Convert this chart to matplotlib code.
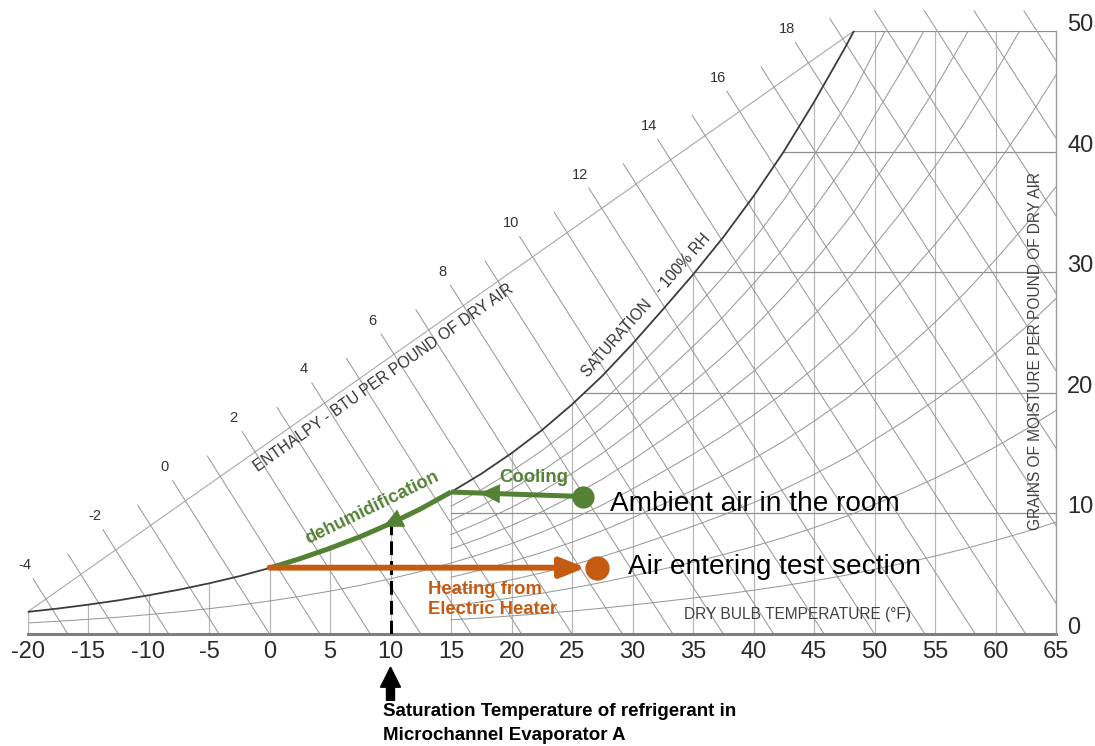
import numpy as np
import matplotlib
matplotlib.use("Agg")
import matplotlib.pyplot as plt

plt.rcParams['font.family'] = ['Liberation Sans', 'DejaVu Sans']

# ---------------- data ----------------
# saturation curve (dry bulb degF -> grains of moisture per lb dry air)
sat_temp = [-20, -17.5, -15, -12.5, -10, -7.5, -5, -2.5, 0, 2.5, 5, 7.5, 10, 12.5,
            15, 17.5, 20, 22.5, 25, 27.5, 30, 32.5, 35, 37.5, 40, 42.5, 45, 47.5,
            48.3, 50, 52.5, 55, 57.5, 60, 62.5, 65]
sat_grains = [1.83, 2.11, 2.43, 2.79, 3.21, 3.67, 4.20, 4.79, 5.47, 6.24, 7.11, 8.07,
              9.16, 10.38, 11.77, 13.28, 14.99, 16.89, 19.03, 21.40, 24.06, 26.9,
              29.8, 32.9, 36.3, 40.0, 44.1, 48.5, 50.0, 53.7, 58.9, 64.6, 70.8,
              77.6, 84.8, 92.7]

db_ticks = [-20, -15, -10, -5, 0, 5, 10, 15, 20, 25, 30, 35, 40, 45, 50, 55, 60, 65]
grain_ticks = [0, 10, 20, 30, 40, 50]
grain_lines = [10, 20, 30, 40, 50]

rh_levels = [10, 20, 30, 40, 50, 60, 70, 80, 90]
rh_start_temp = [15, 15, 15, 15, -20, 15, 15, 15, 15]

enthalpy_values = list(range(-4, 24))
enthalpy_labels = [-4, -2, 0, 2, 4, 6, 8, 10, 12, 14, 16, 18]

# process (degF, grains)
ambient = (25.9, 11.4)
coil_leave = (15.0, 11.77)
evap_exit = (0.0, 5.5)
heated = (27.1, 5.5)
refrigerant_sat_temp = 10

T_MIN, T_MAX, G_MAX = -20, 65, 50
green = '#548235'
orange = '#C55A11'

W, H = 1095, 746
fig = plt.figure(figsize=(W / 100, H / 100), dpi=100)
ax = fig.add_axes([27.5 / W, 1 - 634 / H, (1056 - 27.5) / W, (634 - 31) / H])
ax.set_xlim(T_MIN, T_MAX)
ax.set_ylim(0, G_MAX)
ax.patch.set_visible(False)
for s in ax.spines.values():
    s.set_visible(False)


def fxy(x, y):
    return (x / W, 1 - y / H)


def enth_grains(h, T):
    T = np.asarray(T, dtype=float)
    return 7000 * (h - 0.24 * T) / (1061 + 0.444 * T)


sat_T = np.array(sat_temp)
sat_G = np.array(sat_grains)
top_T = 48.3
scale_a = sat_G[0]
scale_b = (G_MAX - scale_a) / (top_T - T_MIN)


def scale_line(T):
    return scale_a + scale_b * (np.asarray(T) - T_MIN)


grid_c = '#b8b8b8'
line_c = '#9a9a9a'

# vertical dry-bulb lines
for t in db_ticks[:-1]:
    gtop = min(np.interp(t, sat_T, sat_G), G_MAX)
    ax.plot([t, t], [0, gtop], color=grid_c, lw=0.9, zorder=1)
# horizontal moisture lines
for g in grain_lines:
    t0 = max(np.interp(g, sat_G, sat_T), 15)
    ax.plot([t0, T_MAX], [g, g], color='#8e8e8e', lw=0.9, zorder=1)

# RH lines
for rh, t0 in zip(rh_levels, rh_start_temp):
    m = sat_T >= t0
    ax.plot(sat_T[m], sat_G[m] * rh / 100, color=line_c, lw=0.75, zorder=1)

# enthalpy scale line
ax.plot([T_MIN, top_T], [scale_a, G_MAX], color='#a8a8a8', lw=0.8,
        clip_on=False, zorder=1)

# enthalpy lines
Tgrid = np.linspace(T_MIN, top_T, 20001)
for h in enthalpy_values:
    t_low = min(h / 0.24, T_MAX)
    f = enth_grains(h, Tgrid) - scale_line(Tgrid)
    if f[-1] < 0:
        t_up = Tgrid[np.argmax(f < 0)]
    else:
        t_up = (7000 * h - G_MAX * 1061) / (7000 * 0.24 + G_MAX * 0.444)
    if t_up >= T_MAX:
        continue
    tt = np.linspace(t_up, t_low, 60)
    gg = enth_grains(h, tt)
    p_up = ax.transData.transform((t_up, float(enth_grains(h, t_up))))
    p_nx = ax.transData.transform((t_up + 0.5, float(enth_grains(h, t_up + 0.5))))
    d = (p_up - p_nx) / np.hypot(*(p_up - p_nx))
    p_ext = ax.transData.inverted().transform(p_up + 24 * d)
    xs = np.concatenate([[p_ext[0]], tt])
    ys = np.concatenate([[p_ext[1]], gg])
    ax.plot(xs, ys, color=line_c, lw=0.75, clip_on=False, zorder=1)
    if h in enthalpy_labels:
        p_lab = ax.transData.inverted().transform(p_up + 40 * d)
        ax.text(p_lab[0], p_lab[1], str(h), ha='center', va='center',
                fontsize=10.5, color='#333333')

# saturation curve
ax.plot(sat_T, sat_G, color='#3c3c3c', lw=1.3, zorder=2)

# axis lines
ax.plot([T_MIN, T_MAX], [0, 0], color='#7f7f7f', lw=2.2, clip_on=False, zorder=3)
ax.plot([T_MAX, T_MAX], [0, G_MAX], color='#9a9a9a', lw=1.0, clip_on=False, zorder=3)
ax.plot([T_MIN, T_MIN], [0, scale_a], color=grid_c, lw=0.9, zorder=1)

# ticks
ax.set_xticks(db_ticks, labels=[str(t) for t in db_ticks])
ax.yaxis.tick_right()
ax.set_yticks(grain_ticks, labels=[str(g) for g in grain_ticks])
ax.tick_params(axis='x', length=0, pad=5, labelsize=17, labelcolor='#2b2b2b')
ax.tick_params(axis='y', length=0, pad=8, labelsize=17, labelcolor='#2b2b2b')
for lab in ax.get_yticklabels():
    lab.set_verticalalignment('baseline')

# chart captions
fig.text(*fxy(798, 615), 'DRY BULB TEMPERATURE (°F)', ha='center', va='center',
         fontsize=11.2, color='#404040')
fig.text(*fxy(1035, 351), 'GRAINS OF MOISTURE PER POUND OF DRY AIR', ha='center',
         va='center', rotation=90, fontsize=11.2, color='#404040')
fig.text(*fxy(384, 378), 'ENTHALPY - BTU PER POUND OF DRY AIR', ha='center',
         va='center', rotation=35.2, fontsize=11.2, color='#333333')
fig.text(*fxy(646, 305), 'SATURATION   - 100% RH', ha='center', va='center',
         rotation=48.5, fontsize=11.2, color='#333333')

# ---------------- process ----------------
g_ref = float(np.interp(refrigerant_sat_temp, sat_T, sat_G))
ax.plot([refrigerant_sat_temp] * 2, [0, g_ref], color='black', lw=2.2,
        dashes=(4.5, 2), zorder=4)

# cooling (ambient -> coil)
ax.plot([ambient[0], coil_leave[0]], [ambient[1], coil_leave[1]], color=green,
        lw=3.6, solid_capstyle='butt', zorder=5)
ct = np.array([coil_leave[0], ambient[0]])
cg = np.array([coil_leave[1], ambient[1]])
tip_t = 17.4
ax.annotate('', xy=(tip_t, np.interp(tip_t, ct, cg)),
            xytext=(tip_t + 2, np.interp(tip_t + 2, ct, cg)),
            arrowprops=dict(arrowstyle='-|>,head_length=1.35,head_width=0.65',
                            mutation_scale=10, color=green, lw=0.5,
                            shrinkA=0, shrinkB=0), zorder=6)

# dehumidification along saturation
m = (sat_T >= evap_exit[0]) & (sat_T <= coil_leave[0])
ax.plot(sat_T[m], sat_G[m], color=green, lw=3.6, solid_capstyle='butt', zorder=5)
tip_t = 9.4
ax.annotate('', xy=(tip_t, np.interp(tip_t, sat_T, sat_G)),
            xytext=(tip_t + 2, np.interp(tip_t + 2, sat_T, sat_G)),
            arrowprops=dict(arrowstyle='-|>,head_length=1.35,head_width=0.65',
                            mutation_scale=10, color=green, lw=0.5,
                            shrinkA=0, shrinkB=0), zorder=6)

# heating
ax.annotate('', xy=heated, xytext=evap_exit,
            arrowprops=dict(arrowstyle='-|>,head_length=1.5,head_width=0.6',
                            mutation_scale=10, color=orange, lw=4.2,
                            shrinkA=0, shrinkB=8.5), zorder=5)

# state points
ax.plot(*ambient, 'o', color=green, ms=16, mec='none', zorder=7, clip_on=False)
ax.plot(*heated, 'o', color=orange, ms=17.5, mec='none', zorder=7, clip_on=False)

# up arrow under axis
ax.arrow(refrigerant_sat_temp, -5.5, 0, 2.75, width=0.66, head_width=1.65,
         head_length=1.66, length_includes_head=True, color='black',
         clip_on=False, zorder=6)

# annotations
fig.text(*fxy(610, 504), 'Ambient air in the room', ha='left', va='center',
         fontsize=20.2, color='black')
fig.text(*fxy(628, 567), 'Air entering test section', ha='left', va='center',
         fontsize=20.2, color='black')
fig.text(*fxy(534, 477), 'Cooling', ha='center', va='center', fontsize=13.4,
         fontweight='bold', color=green)
fig.text(*fxy(372, 508), 'dehumidification', ha='center', va='center',
         fontsize=13.2, fontweight='bold', color=green, rotation=26)
fig.text(*fxy(428, 590), 'Heating from', ha='left', va='center', fontsize=13.3,
         fontweight='bold', color=orange)
fig.text(*fxy(428, 610), 'Electric Heater', ha='left', va='center', fontsize=13.3,
         fontweight='bold', color=orange)
fig.text(*fxy(383, 712), 'Saturation Temperature of refrigerant in', ha='left',
         va='center', fontsize=13.5, fontweight='bold', color='black')
fig.text(*fxy(383, 735), 'Microchannel Evaporator A', ha='left', va='center',
         fontsize=13.5, fontweight='bold', color='black')

fig.savefig('out.png', dpi=100, facecolor='white')
